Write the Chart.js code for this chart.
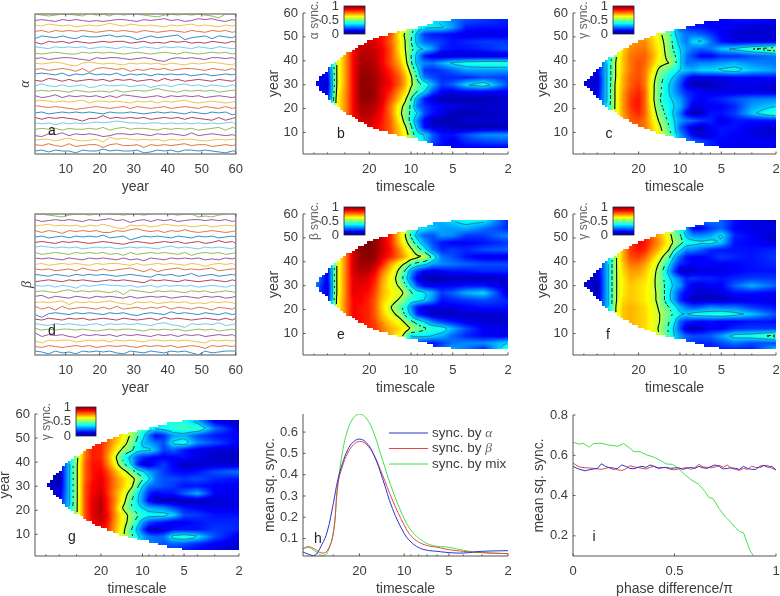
<!DOCTYPE html>
<html>
<head>
<meta charset="utf-8">
<script src="https://cdn.jsdelivr.net/npm/chart.js@4"></script>
<style>
html, body { margin: 0; padding: 0; background: #fff; width: 780px; height: 596px; overflow: hidden; }
canvas { position: absolute; filter: blur(0.4px); }
</style>
</head>
<body>
<script>
// ---- data ----
const yearTicks = [10, 20, 30, 40, 50, 60];
const lineYears = [1, 3, 5, 7, 9, 11, 13, 15, 17, 19, 21, 23, 25, 27, 29, 31, 33, 35, 37, 39, 41, 43, 45, 47, 49, 51, 53, 55, 57, 59, 60];
const lineColors = ['#0072BDcc', '#D95319cc', '#EDB120cc', '#7E2F8Ecc', '#77AC30cc', '#4DBEEEcc', '#A2142Fcc'];

// one row per line, bottom line first, in tenths of the line spacing
const linesA = [
  [0,1,-1,1,0,0,-2,1,0,0,2,0,1,0,0,1,-2,-1,1,0,1,-1,1,1,0,1,0,-1,-2,0,0],
  [1,0,2,0,-1,2,-1,0,1,1,-2,1,2,0,0,1,-2,1,0,1,0,1,2,0,1,1,-1,0,1,0,1],
  [0,1,1,-1,1,2,0,-1,0,1,-2,3,1,2,1,0,1,0,1,-1,1,0,1,1,0,-1,0,1,0,1,1],
  [-1,-2,1,0,2,-1,1,0,1,0,-2,-1,1,1,0,1,0,-1,1,0,1,0,-1,2,-1,0,1,0,-1,0,-1],
  [0,1,0,1,-1,1,0,0,1,0,2,-1,1,2,0,1,1,0,-1,1,0,1,0,1,-1,0,1,2,-1,2,1],
  [1,0,1,-1,1,0,1,0,1,2,1,2,3,2,1,1,0,1,1,0,1,0,1,0,1,0,1,0,1,2,-1],
  [1,-1,1,0,1,0,-1,-3,0,0,3,0,1,0,1,0,1,-1,0,1,0,1,-1,1,0,-1,-2,1,-2,0,1],
  [0,1,-1,0,1,0,1,0,1,0,-1,1,0,0,1,0,-1,0,1,0,1,0,-1,1,0,-1,1,0,1,-2,-1],
  [2,1,0,1,0,-1,-2,-1,0,1,0,-1,0,1,-1,1,0,-1,0,1,-1,0,1,0,-1,1,0,-1,1,-1,0],
  [1,2,1,0,1,0,1,2,-1,1,1,0,1,0,-1,1,0,1,-1,1,0,1,2,0,-1,0,1,0,-1,0,1],
  [1,-1,0,2,-1,1,0,1,0,1,-1,1,-1,2,1,0,-1,0,1,-1,1,0,1,0,1,-1,0,1,0,-1,0],
  [0,1,0,1,0,-1,1,0,-1,0,0,-1,1,-1,0,1,0,1,3,1,0,-1,1,0,1,0,1,-1,0,1,1],
  [0,2,0,-1,1,-1,0,1,-2,-1,1,0,0,1,-1,0,1,-2,0,1,-1,1,2,0,1,-1,1,0,-1,1,0],
  [0,-1,2,1,-1,1,-1,0,1,0,1,-1,1,0,1,-1,0,1,-1,2,0,1,-1,0,1,0,-1,1,0,-1,1],
  [1,2,1,0,2,-1,1,0,2,0,1,0,2,-1,1,0,1,-1,1,0,1,0,1,-1,0,1,-1,0,1,0,1],
  [0,1,-1,0,1,0,-2,1,-3,1,2,1,0,1,-2,0,-1,1,0,1,-1,0,1,1,0,-1,1,0,-1,1,-1],
  [1,0,1,2,1,-1,-2,1,2,1,0,1,0,-1,1,0,1,0,1,-1,1,0,-1,1,0,1,2,1,0,-1,1],
  [0,1,-1,0,1,1,0,-1,-2,1,0,1,1,0,-1,0,1,0,-2,-3,0,1,0,1,0,-1,1,1,0,1,-1],
  [0,-1,0,1,0,-1,-1,1,0,1,0,1,0,-1,0,1,0,-1,0,1,0,-1,1,0,-1,0,1,0,1,-1,0],
  [1,0,-1,1,0,1,0,1,-1,0,1,0,-1,1,0,-1,1,0,-1,1,0,1,0,-1,1,0,-1,1,0,-1,-1],
  [0,-2,1,0,1,-1,1,0,-1,0,1,0,1,1,-1,0,1,-1,0,-1,1,0,1,-1,0,-1,1,0,-1,1,0],
  [-2,1,0,-1,1,-1,-2,1,0,0,1,2,0,1,0,-3,-1,1,-1,0,1,2,-3,-1,0,1,-2,1,0,-1,1],
  [0,1,-1,1,0,1,0,1,0,-1,0,1,0,1,0,-1,1,0,-1,0,1,0,-1,1,0,-1,1,0,1,-1,0],
  [1,0,2,1,0,1,-1,0,1,0,1,3,1,0,2,1,0,1,0,-1,1,0,1,2,0,1,0,-1,1,0,1],
  [0,1,0,-1,1,0,1,0,-1,0,-1,0,1,1,0,-1,1,0,1,2,0,1,-1,0,2,1,2,0,-1,1,0],
  [1,0,-1,0,1,1,0,-1,2,0,1,-1,2,0,1,1,0,-1,-2,0,1,0,1,0,1,0,-1,-3,1,1,1]
];
const linesD = [
  [1,0,-2,1,-1,0,-2,1,0,1,0,1,-1,-2,1,0,-1,1,0,-1,1,0,1,-1,-3,1,-1,0,1,1,1],
  [0,-1,1,0,-1,0,1,0,1,-1,0,1,0,1,0,-1,1,0,1,0,1,-1,0,1,0,-2,1,0,1,0,1],
  [0,-2,1,0,1,1,-1,0,1,0,1,-1,1,0,1,0,-1,1,1,0,1,0,1,0,-1,-2,1,0,1,0,1],
  [3,-1,1,0,1,-1,-2,1,0,1,0,1,-1,1,0,1,0,-1,1,0,1,-1,1,0,1,-1,0,1,0,1,-1],
  [2,0,1,0,1,1,0,1,0,-1,0,1,0,1,1,0,-1,1,0,1,0,1,-1,0,1,0,1,-1,0,1,0],
  [1,0,-1,1,0,1,0,-1,0,1,-1,1,0,1,0,1,0,-1,1,2,0,-1,-3,1,0,1,0,2,-1,0,1],
  [0,-1,1,0,-1,1,0,1,-1,0,1,0,-1,1,0,-1,0,1,-1,2,0,1,0,-1,0,1,0,-1,1,-1,1],
  [-1,-4,0,1,0,-1,1,0,1,0,-1,1,0,1,-1,-2,0,1,0,-1,2,0,1,0,-1,1,0,-1,1,-1,0],
  [2,-1,1,-2,2,-1,0,1,0,-1,1,-1,2,-1,0,1,-1,1,0,2,-1,1,0,-1,1,0,-2,1,0,-1,1],
  [0,1,0,1,2,-2,1,0,1,0,1,2,0,-1,-2,1,0,1,-1,0,1,0,1,-1,0,-1,1,0,1,0,-1],
  [1,2,-1,1,0,-1,1,0,-1,1,0,1,0,-1,1,-1,0,1,0,1,-1,0,1,0,-1,1,0,1,-1,0,1],
  [0,1,0,-1,1,2,0,1,0,1,0,-1,1,-3,2,1,0,-1,1,0,1,0,-1,1,0,1,-1,0,1,0,-1],
  [1,0,1,-1,1,0,-2,1,0,1,2,1,1,0,1,-1,0,1,-1,1,0,1,0,1,-1,0,1,0,-1,1,0],
  [-1,0,1,0,-1,1,0,1,0,-1,0,1,0,1,0,-1,-2,1,0,1,0,-1,1,0,-1,0,1,0,-1,1,0],
  [1,0,-1,1,0,-1,1,0,1,0,1,0,-1,0,1,0,-1,-2,1,0,1,-1,0,2,-1,0,1,-1,0,1,0],
  [1,0,1,-1,0,1,-1,2,0,-1,1,-1,0,1,2,0,-2,1,-2,0,1,2,0,1,0,1,2,-1,0,1,1],
  [0,1,-1,0,1,0,1,0,-1,1,0,1,1,0,-1,1,-1,0,1,0,1,0,-1,1,0,-2,0,1,0,1,-1],
  [1,0,1,0,-1,1,0,-1,1,0,1,0,-1,1,-1,0,-2,1,0,-1,1,0,1,0,1,-1,0,-1,1,0,1],
  [1,-1,0,1,0,-1,1,0,1,0,1,-1,0,-2,1,-1,0,1,0,1,0,-1,1,-2,0,1,0,1,-1,0,1],
  [1,2,1,0,1,0,1,-1,0,1,0,1,-1,0,1,0,1,0,-1,1,2,0,1,0,-1,1,0,1,0,-1,1],
  [0,1,0,-1,1,0,1,0,-1,0,1,0,-1,-2,0,1,0,-1,0,1,0,1,-1,0,1,-1,0,2,0,1,-1],
  [0,1,-1,0,1,-1,1,0,1,0,2,-1,0,1,-3,-1,1,0,1,0,-1,1,0,-1,1,0,1,-1,0,1,0],
  [1,-1,1,0,-2,1,0,1,0,1,-1,-1,1,0,2,3,1,0,1,-1,1,0,2,0,-1,0,1,0,-1,0,1],
  [0,1,2,0,1,0,1,-1,1,0,2,0,-2,-3,1,0,1,-1,0,2,1,0,1,-1,0,1,-1,0,1,0,1],
  [1,-1,0,1,0,1,0,-1,1,0,1,2,0,1,-2,0,1,-1,1,0,1,-1,0,1,1,0,1,0,1,-1,0],
  [1,1,0,-1,-2,0,1,1,0,1,2,1,1,0,1,1,0,1,2,2,1,0,1,1,-2,-1,-2,0,1,2,1]
];

// heat maps: rows run from year 57 down to year 3, values in hundredths
const heatTimescales = [48, 40, 34, 29, 26, 23, 20, 18, 16, 14, 12, 11, 10, 9, 8, 7, 6, 5, 4, 3, 2];
const heatYears = [57, 54, 51, 48, 45, 42, 39, 36, 33, 30, 27, 24, 21, 18, 15, 12, 9, 6, 3];
const heatB = [
  [20,20,58,75,85,85,85,85,85,80,65,60,50,42,38,35,32,25,20,18,15],
  [20,20,58,75,88,88,88,88,85,80,68,60,50,40,36,36,35,28,15,14,14],
  [20,20,58,75,88,90,90,90,86,80,62,54,46,30,18,14,14,12,10,10,10],
  [20,20,58,75,88,92,92,90,86,78,64,56,44,30,22,20,18,14,16,18,18],
  [20,20,58,75,88,94,93,92,88,80,64,56,48,36,34,28,16,14,14,16,20],
  [20,18,58,75,88,95,95,93,88,80,66,58,44,30,14,10,8,8,8,8,8],
  [15,15,58,75,88,96,96,94,88,80,70,60,46,30,26,24,30,36,40,42,42],
  [14,14,58,75,88,97,97,95,90,84,74,66,52,38,18,16,18,22,28,28,28],
  [10,10,58,75,88,98,98,96,92,86,78,70,58,42,24,20,16,16,16,20,18],
  [12,8,58,75,88,98,98,96,92,87,78,70,58,48,42,30,18,22,34,40,20],
  [12,10,60,76,88,98,99,96,90,84,72,66,52,44,34,20,12,10,12,12,12],
  [14,14,62,76,88,98,98,96,90,80,68,58,44,28,14,8,5,5,5,5,8],
  [18,18,62,76,88,96,96,94,88,76,60,52,42,24,18,14,12,10,8,8,8],
  [20,20,62,76,88,95,95,92,86,76,58,50,42,34,20,14,10,6,5,6,8],
  [20,20,62,76,88,92,92,90,85,78,62,52,40,26,12,6,5,5,8,8,8],
  [20,20,62,76,88,90,90,88,84,78,66,58,46,30,14,10,8,6,5,5,5],
  [20,20,62,76,88,88,88,86,84,78,68,62,50,38,34,22,14,14,20,26,28],
  [20,20,62,76,88,88,88,86,84,78,68,62,54,44,34,20,14,10,16,18,20],
  [20,20,62,76,88,88,88,86,84,78,68,62,52,40,30,15,12,12,10,10,10]
];
const heatC = [
  [15,15,30,50,60,66,68,68,62,55,45,35,22,18,14,14,12,12,14,14,12],
  [15,15,30,50,60,66,68,68,62,55,45,35,22,18,14,14,12,12,10,8,8],
  [15,15,30,52,62,68,70,70,66,58,48,36,28,24,24,22,18,12,8,8,8],
  [15,15,30,52,64,72,74,74,68,60,50,40,30,24,34,36,24,14,10,10,10],
  [14,14,30,54,66,74,76,76,70,62,50,42,34,28,24,22,24,32,36,44,52],
  [12,12,32,56,68,76,78,78,72,62,52,46,36,24,18,12,12,16,16,20,24],
  [12,10,34,58,68,76,80,78,70,60,56,48,36,24,24,26,26,28,30,26,24],
  [10,10,34,58,68,76,80,76,66,52,44,40,34,32,30,34,34,36,38,32,28],
  [8,8,34,58,70,78,80,76,62,48,38,32,24,16,10,10,10,10,12,12,14],
  [8,8,34,60,70,78,82,76,60,46,34,28,20,10,6,5,6,8,10,10,8],
  [10,10,34,60,72,80,84,78,60,46,34,28,22,16,14,12,10,10,10,10,8],
  [12,12,34,60,72,82,86,78,60,44,36,32,28,20,14,12,14,16,20,24,26],
  [14,14,36,60,72,82,86,78,62,46,38,34,30,20,10,10,12,12,16,28,34],
  [14,14,36,60,72,80,84,78,64,50,38,32,24,12,5,8,14,14,18,32,44],
  [14,14,36,60,70,78,80,76,66,54,42,34,28,24,22,18,16,10,14,14,14],
  [14,14,36,60,70,76,78,76,68,58,44,36,22,14,8,6,12,14,14,10,8],
  [14,14,36,60,70,76,78,76,68,60,48,38,28,20,10,8,10,14,12,10,8],
  [14,14,36,60,70,76,78,76,68,60,48,38,30,28,24,20,16,12,12,12,12],
  [14,14,36,60,70,76,78,76,68,60,48,38,30,26,22,18,14,12,10,10,10]
];
const heatE = [
  [30,25,58,78,92,98,98,96,92,84,68,60,50,40,34,30,30,34,38,36,16],
  [30,25,58,78,92,98,98,96,92,84,68,60,46,36,34,32,28,28,30,24,16],
  [30,22,58,78,92,98,99,98,92,84,66,56,42,30,22,20,28,26,18,18,26],
  [32,22,58,78,92,99,100,98,92,84,68,60,50,38,28,20,14,12,12,14,18],
  [32,20,58,78,92,99,100,98,92,86,74,66,58,50,38,24,16,18,16,20,22],
  [34,18,58,78,92,98,99,97,90,84,76,70,62,58,58,42,24,20,14,10,10],
  [34,14,58,78,92,97,97,94,84,72,60,54,45,40,36,28,26,24,22,20,20],
  [32,10,58,78,92,95,94,88,76,66,52,42,28,18,12,10,12,14,14,16,16],
  [28,10,58,78,90,92,90,84,72,62,50,38,24,10,6,5,5,6,6,6,8],
  [24,8,58,78,90,90,88,82,70,62,54,46,34,20,12,10,12,12,14,14,8],
  [22,8,58,78,90,88,86,80,70,64,60,54,46,40,36,30,18,22,30,34,8],
  [22,10,60,78,88,88,84,78,68,62,54,48,40,38,34,26,14,16,18,20,16],
  [24,12,60,78,88,86,84,78,66,56,46,40,26,14,10,10,10,10,12,14,14],
  [24,14,60,78,88,86,84,78,68,60,52,42,32,16,10,6,6,6,8,8,8],
  [26,16,60,78,88,86,84,80,72,66,60,54,46,40,34,24,18,14,10,8,8],
  [26,16,60,78,88,86,84,82,76,70,66,62,56,50,46,42,40,30,20,12,10],
  [28,16,60,78,88,86,84,82,76,70,62,50,34,36,36,34,30,22,16,12,10],
  [28,16,60,78,88,86,84,82,76,70,60,50,28,20,16,14,18,24,26,26,34],
  [28,16,60,78,88,86,84,82,76,70,60,50,28,20,16,16,24,30,24,14,44]
];
const heatF = [
  [14,14,28,52,66,76,80,78,74,68,56,44,40,30,22,22,24,22,14,10,8],
  [14,14,28,52,66,78,84,82,76,70,58,48,40,28,12,12,18,22,12,10,10],
  [14,14,28,52,68,80,86,84,78,70,60,50,46,32,26,26,28,36,16,12,6],
  [14,14,28,52,68,82,88,86,80,72,62,54,48,40,38,36,38,32,14,12,10],
  [12,14,28,54,70,82,86,84,76,68,56,44,36,26,26,22,16,14,14,14,16],
  [12,12,30,56,70,80,82,78,70,60,46,32,22,14,12,12,14,18,16,14,18],
  [12,10,30,56,68,76,76,72,64,54,36,24,16,14,12,12,12,12,12,14,16],
  [10,8,30,56,66,72,72,68,62,50,30,18,8,6,8,10,10,10,12,14,14],
  [8,6,30,56,64,70,68,66,60,50,36,30,24,16,18,16,16,14,16,18,18],
  [8,5,30,56,64,68,66,64,60,50,38,32,28,16,10,10,12,12,22,30,22],
  [10,5,30,56,64,68,66,64,60,52,36,28,18,12,10,8,8,10,14,14,12],
  [12,8,30,56,66,68,66,64,60,52,36,28,16,10,6,6,6,6,8,10,10],
  [14,12,30,58,68,70,68,66,62,54,44,38,30,24,20,22,26,24,24,18,14],
  [14,14,30,58,68,70,68,66,62,56,48,42,36,34,38,40,40,42,38,32,20],
  [14,14,30,58,68,70,68,66,62,56,44,36,22,16,14,12,14,12,12,14,14],
  [14,14,30,58,68,70,68,66,62,54,42,32,20,8,5,8,12,12,16,18,18],
  [14,14,30,58,68,70,68,66,62,56,44,34,28,22,20,20,22,28,38,40,48],
  [14,14,30,58,68,70,68,66,62,56,44,34,28,20,18,16,16,20,24,20,20],
  [14,14,30,58,68,70,68,66,62,56,44,34,28,20,16,16,14,14,14,14,34]
];
const heatG = [
  [14,14,30,56,72,78,80,76,72,62,52,48,44,40,34,36,40,40,30,10,6],
  [14,14,30,56,72,80,82,76,72,64,54,50,44,40,36,38,42,44,44,24,10],
  [14,14,30,56,72,82,84,78,72,64,54,46,38,24,12,16,28,30,20,14,12],
  [14,14,30,56,74,84,84,78,70,62,50,42,32,28,24,20,36,40,26,20,12],
  [12,12,30,58,76,85,84,76,66,54,46,38,36,36,30,18,22,14,10,8,8],
  [10,10,32,58,76,85,84,74,60,42,30,22,16,14,12,12,12,14,10,8,6],
  [8,8,32,60,78,86,86,76,64,48,34,18,10,8,14,18,12,6,8,8,8],
  [6,6,32,60,78,86,88,82,72,62,50,42,36,28,24,18,14,12,14,20,24],
  [6,5,32,60,78,86,90,84,76,68,60,54,46,36,24,20,20,18,20,16,14],
  [8,6,32,60,80,88,90,84,76,68,58,48,34,24,22,20,18,14,14,12,12],
  [10,8,32,60,80,88,92,84,74,64,50,38,28,16,12,14,14,22,30,12,10],
  [12,12,32,60,80,90,94,86,76,62,44,36,26,12,6,5,5,5,6,8,10],
  [14,14,34,60,80,90,95,86,74,56,44,38,34,30,28,26,20,14,12,10,10],
  [14,14,34,60,80,90,94,88,76,62,52,46,42,38,38,38,34,20,18,14,14],
  [14,14,34,60,78,88,92,86,74,62,50,40,28,20,16,14,10,12,14,16,16],
  [14,14,34,60,78,86,88,84,72,60,44,32,20,8,6,8,14,14,14,18,16],
  [14,14,34,60,78,86,86,82,70,58,46,38,30,24,22,24,38,42,36,20,10],
  [14,14,34,60,78,86,86,82,70,58,46,38,30,26,24,20,22,20,16,12,8],
  [14,14,34,60,78,86,86,82,70,58,46,38,30,24,20,18,16,14,12,10,8]
];
const contourLevels = [0.34, 0.44, 0.56];
const coneCentre = 30.5;
const coneTimescales = [49, 43, 36, 33, 26, 20, 15, 11.4, 8.7, 6.7, 4.9, 3.3, 2];
const coneHalfWidths = [0.5, 3.8, 8.7, 10.3, 14.2, 17.7, 20.5, 22.3, 23.7, 25.6, 26.7, 27.4, 27.4];

// panel h
const meanTimescales = [48, 44, 40, 36, 33, 30, 28, 26, 24, 22, 20, 18, 16, 14, 12, 10, 9, 8, 7, 6, 5, 4, 3, 2];
const meanAlpha = [.037,.026,.02,.069,.131,.265,.375,.454,.517,.554,.567,.551,.493,.383,.241,.124,.084,.058,.045,.04,.034,.032,.04,.043];
const meanBeta = [.053,.062,.05,.032,.042,.124,.352,.441,.501,.54,.556,.543,.493,.399,.281,.163,.113,.084,.067,.059,.048,.04,.034,.029];
const meanMix = [.05,.058,.042,.021,.032,.131,.344,.509,.611,.666,.685,.666,.595,.47,.328,.194,.139,.103,.076,.064,.059,.045,.034,.029];
const seriesLabels = ['sync. by ', 'sync. by ', 'sync. by '];
const seriesSymbols = ['α', 'β', ''];
const seriesTail = ['', '', 'mix'];
const seriesColors = ['#2a35c8', '#e2474b', '#45e04a'];

// panel i
const phaseEven = [0,.02,.04,.06,.08,.1,.12,.14,.16,.18,.2,.22,.24,.26,.28,.3,.32,.34,.36,.38,.4,.42,.44,.46,.48,.5,.52,.54,.56,.58,.6,.62,.64,.66,.68,.7,.72,.74,.76,.78,.8,.82,.84,.86,.88,.9,.92,.94,.96,.98,1];
const phaseAlpha = [.545,.535,.528,.523,.528,.532,.534,.558,.545,.538,.53,.535,.552,.545,.535,.533,.54,.545,.54,.552,.545,.535,.538,.54,.535,.537,.538,.53,.535,.54,.535,.545,.538,.535,.545,.552,.545,.532,.535,.538,.535,.53,.545,.535,.53,.53,.545,.55,.54,.545,.528];
const phaseBeta = [.562,.548,.54,.538,.537,.535,.533,.53,.535,.54,.538,.528,.525,.532,.548,.542,.54,.535,.532,.54,.545,.538,.54,.538,.53,.528,.532,.535,.54,.53,.538,.555,.542,.54,.538,.542,.55,.54,.552,.535,.53,.525,.535,.53,.545,.54,.538,.548,.55,.535,.528];
const phaseMixX = [0,.03,.05,.08,.1,.14,.17,.2,.22,.25,.28,.3,.33,.36,.4,.43,.46,.49,.52,.55,.58,.62,.65,.67,.69,.72,.75,.78,.8,.82,.84,.86,.87,.89];
const phaseMix = [.665,.655,.66,.64,.658,.66,.652,.648,.645,.658,.635,.618,.618,.603,.59,.575,.557,.555,.535,.505,.48,.455,.42,.39,.385,.335,.295,.265,.24,.222,.215,.16,.13,.1];

const timescaleTicks = [50, 40, 30, 20, 10, 9, 8, 7, 6, 5, 4, 3, 2];
const timescaleLabels = [20, 10, 5, 2];

// ---- helpers ----
const FONT = '"Liberation Sans", Arial, sans-serif';
const TEXT = '#3c3c3c';
const AXIS = '#555';
const NO_GRID = { display: false, drawTicks: false };

function addCanvas(box, L, T, R, B) {
  const c = document.createElement('canvas');
  c.width = L + (box.r - box.l) + R;
  c.height = T + (box.b - box.t) + B;
  c.style.left = (box.l - L) + 'px';
  c.style.top = (box.t - T) + 'px';
  c.style.width = c.width + 'px';
  c.style.height = c.height + 'px';
  document.body.appendChild(c);
  return c;
}

function jet(v) {
  const f = (a) => Math.max(0, Math.min(1, 1.5 - Math.abs(4 * v - a)));
  return [f(3) * 255, f(2) * 255, f(1) * 255];
}

function interpIndex(list, v) {
  // list is monotonic, returns i and fraction
  const up = list[0] < list[list.length - 1];
  for (let i = 0; i < list.length - 1; i++) {
    const inside = up ? v <= list[i + 1] : v >= list[i + 1];
    if (inside) return [i, (v - list[i]) / (list[i + 1] - list[i])];
  }
  return [list.length - 2, 1];
}

const logHeatT = heatTimescales.map(Math.log);
const logConeT = coneTimescales.map(Math.log);

function sampleHeat(grid, t, year) {
  const [ci, cf0] = interpIndex(logHeatT, Math.log(t));
  const [ri, rf0] = interpIndex(heatYears, year);
  const cf = Math.max(0, Math.min(1, cf0)), rf = Math.max(0, Math.min(1, rf0));
  const a = grid[ri][ci] * (1 - cf) + grid[ri][ci + 1] * cf;
  const b = grid[ri + 1][ci] * (1 - cf) + grid[ri + 1][ci + 1] * cf;
  return (a * (1 - rf) + b * rf) / 100;
}

function coneHalf(t) {
  if (t > coneTimescales[0]) return -1;
  const [i, f] = interpIndex(logConeT, Math.log(t));
  return coneHalfWidths[i] + (coneHalfWidths[i + 1] - coneHalfWidths[i]) * f;
}

function heatPlugin(grid) {
  return {
    id: 'heat',
    beforeDatasetsDraw(chart) {
      const xs = chart.scales.x, ys = chart.scales.y, area = chart.chartArea, ctx = chart.ctx;
      const left = Math.round(area.left), top = Math.round(area.top);
      const w = Math.round(area.right) - left, h = Math.round(area.bottom) - top;
      const img = ctx.createImageData(w, h);
      for (let i = 0; i < w; i++) {
        const px = left + i + 0.5;
        const t = xs.getValueForPixel(px);
        const stepPx = left + w - Math.ceil((w - i) / 3) * 3 + 1.5;
        const half = coneHalf(xs.getValueForPixel(Math.max(stepPx, left)));
        if (half < 0) continue;
        for (let j = 0; j < h; j++) {
          const year = ys.getValueForPixel(top + j + 0.5);
          if (Math.abs(Math.round(year) - coneCentre) > half) continue;
          const [r, g, b] = jet(sampleHeat(grid, t, year));
          const k = (j * w + i) * 4;
          img.data[k] = r; img.data[k + 1] = g; img.data[k + 2] = b; img.data[k + 3] = 255;
        }
      }
      ctx.putImageData(img, left, top);
      drawContours(chart, grid);
    }
  };
}

function drawContours(chart, grid) {
  const xs = chart.scales.x, ys = chart.scales.y, area = chart.chartArea, ctx = chart.ctx;
  const step = 2;
  const vals = [], inside = [];
  const nx = Math.floor((area.right - area.left) / step), ny = Math.floor((area.bottom - area.top) / step);
  for (let i = 0; i <= nx; i++) {
    vals.push([]); inside.push([]);
    const t = xs.getValueForPixel(area.left + i * step);
    const half = coneHalf(t);
    for (let j = 0; j <= ny; j++) {
      const year = ys.getValueForPixel(area.top + j * step);
      inside[i].push(half > 0 && Math.abs(year - coneCentre) < half - 0.5);
      vals[i].push(sampleHeat(grid, t, year));
    }
  }
  contourLevels.forEach((level, n) => {
    ctx.save();
    ctx.strokeStyle = n === 0 ? '#3a4a50' : '#000';
    ctx.lineWidth = n === 0 ? 0.6 : (n === 1 ? 0.8 : 1.1);
    ctx.beginPath();
    for (let i = 0; i < nx; i++) {
      for (let j = 0; j < ny; j++) {
        if (!(inside[i][j] && inside[i + 1][j] && inside[i][j + 1] && inside[i + 1][j + 1])) continue;
        const x0 = area.left + i * step, y0 = area.top + j * step;
        const v = [vals[i][j], vals[i + 1][j], vals[i + 1][j + 1], vals[i][j + 1]];
        const pts = [];
        const corners = [[0, 0], [1, 0], [1, 1], [0, 1]];
        for (let e = 0; e < 4; e++) {
          const a = v[e], b = v[(e + 1) % 4];
          if ((a < level) !== (b < level)) {
            const f = (level - a) / (b - a);
            const ca = corners[e], cb = corners[(e + 1) % 4];
            pts.push([x0 + (ca[0] + (cb[0] - ca[0]) * f) * step, y0 + (ca[1] + (cb[1] - ca[1]) * f) * step]);
          }
        }
        if (pts.length < 2) continue;
        if (n === 1 && Math.floor((pts[0][0] + pts[0][1]) / 3) % 2 === 0) continue;
        ctx.moveTo(pts[0][0], pts[0][1]);
        ctx.lineTo(pts[1][0], pts[1][1]);
      }
    }
    ctx.stroke();
    ctx.restore();
  });
}

function framePlugin(fullBox, letter) {
  return {
    id: 'frame',
    afterDraw(chart) {
      const ctx = chart.ctx, a = chart.chartArea, xs = chart.scales.x, ys = chart.scales.y;
      ctx.save();
      ctx.strokeStyle = fullBox ? '#8a8a8a' : AXIS;
      ctx.lineWidth = fullBox ? 1.5 : 1;
      ctx.beginPath();
      ctx.moveTo(a.left, a.top); ctx.lineTo(a.left, a.bottom); ctx.lineTo(a.right, a.bottom);
      if (fullBox) { ctx.lineTo(a.right, a.top); ctx.closePath(); }
      ctx.stroke();
      ctx.strokeStyle = AXIS;
      ctx.lineWidth = 1;
      ctx.beginPath();
      xs.ticks.forEach(tk => {
        const p = xs.getPixelForValue(tk.value);
        const len = tk.label === '' ? 1.5 : 2.5;
        ctx.moveTo(p, a.bottom); ctx.lineTo(p, a.bottom - len);
        if (fullBox) { ctx.moveTo(p, a.top); ctx.lineTo(p, a.top + len); }
      });
      if (!fullBox) {
        ys.ticks.forEach(tk => {
          const p = ys.getPixelForValue(tk.value);
          ctx.moveTo(a.left, p); ctx.lineTo(a.left + 2.5, p);
        });
      }
      ctx.stroke();
      ctx.fillStyle = '#222';
      ctx.font = '14px ' + FONT;
      ctx.textAlign = 'center';
      ctx.textBaseline = 'middle';
      ctx.fillText(letter.text, a.left + letter.dx, a.top + letter.dy);
      ctx.restore();
    }
  };
}

function legendPlugin(dx, dy, gap) {
  return {
    id: 'lineKey',
    afterDraw(chart) {
      const ctx = chart.ctx, a = chart.chartArea;
      ctx.save();
      seriesLabels.forEach((label, i) => {
        const y = a.top + dy + i * gap;
        ctx.strokeStyle = seriesColors[i];
        ctx.lineWidth = 1;
        ctx.beginPath();
        ctx.moveTo(a.left + dx, y); ctx.lineTo(a.left + dx + 39, y);
        ctx.stroke();
        ctx.textBaseline = 'middle';
        ctx.textAlign = 'left';
        ctx.fillStyle = TEXT;
        ctx.font = '13.5px ' + FONT;
        let x = a.left + dx + 43;
        ctx.fillText(label, x, y);
        x += ctx.measureText(label).width;
        if (seriesTail[i]) ctx.fillText(seriesTail[i], x, y);
        if (seriesSymbols[i]) {
          ctx.font = 'italic 13.5px "Liberation Serif", serif';
          ctx.fillStyle = '#666';
          ctx.fillText(seriesSymbols[i], x, y);
        }
      });
      ctx.restore();
    }
  };
}

function fixedTicks(list) {
  return s => { s.ticks = list.map(v => ({ value: v })); };
}

function titleOpts(text, font) {
  return { display: true, text: text, color: TEXT, padding: 0, font: font || { family: FONT, size: 14 } };
}

function tickOpts(padding, callback) {
  return { color: TEXT, font: { family: FONT, size: 13 }, padding: padding, autoSkip: false, minRotation: 0, maxRotation: 0, callback: callback };
}

function yearX() {
  return {
    type: 'linear', min: 1, max: 60, bounds: 'data',
    afterBuildTicks: fixedTicks(yearTicks),
    grid: NO_GRID, border: { display: false },
    ticks: tickOpts(8, v => String(v)),
    title: titleOpts('year'),
    afterFit: s => { s.height = 42; }
  };
}

function timescaleX(maxT) {
  return {
    type: 'logarithmic', reverse: true, min: 2, max: maxT, bounds: 'data',
    afterBuildTicks: fixedTicks(timescaleTicks.filter(v => v <= maxT)),
    grid: NO_GRID, border: { display: false },
    ticks: tickOpts(8, v => timescaleLabels.includes(v) ? String(v) : ''),
    title: titleOpts('timescale'),
    afterFit: s => { s.height = 42; }
  };
}

const MAIN_LAYOUT = { padding: { top: 14, right: 12, left: 0, bottom: 0 } };

// line stack panels a and d
function stackPanel(box, L, lines, greek, letter) {
  const c = addCanvas(box, L, 14, 12, 42);
  new Chart(c, {
    type: 'scatter',
    data: {
      datasets: lines.map((row, i) => ({
        data: row.map((v, k) => ({ x: lineYears[k], y: i + v * 0.17 })),
        showLine: true, pointRadius: 0, borderWidth: 1,
        borderColor: lineColors[i % lineColors.length]
      }))
    },
    options: {
      responsive: false, animation: false,
      layout: MAIN_LAYOUT,
      plugins: { legend: { display: false }, tooltip: { enabled: false } },
      scales: {
        x: yearX(),
        y: {
          type: 'linear', min: -0.55, max: 25.2, bounds: 'data',
          grid: NO_GRID, border: { display: false },
          ticks: { display: false },
          title: titleOpts(greek, { family: '"Liberation Serif", serif', style: 'italic', size: 14 }),
          afterFit: s => { s.width = L; }
        }
      }
    },
    plugins: [framePlugin(true, letter)]
  });
}

// wavelet panels
function heatPanel(box, L, grid, letter) {
  const c = addCanvas(box, L, 14, 12, 42);
  new Chart(c, {
    type: 'scatter',
    data: { datasets: [{ data: [] }] },
    options: {
      responsive: false, animation: false,
      layout: MAIN_LAYOUT,
      plugins: { legend: { display: false }, tooltip: { enabled: false } },
      scales: {
        x: timescaleX(60),
        y: {
          type: 'linear', min: 1, max: 60, bounds: 'data',
          afterBuildTicks: fixedTicks(yearTicks),
          grid: NO_GRID, border: { display: false },
          ticks: tickOpts(5, v => String(v)),
          title: titleOpts('year'),
          afterFit: s => { s.width = L; }
        }
      }
    },
    plugins: [heatPlugin(grid), framePlugin(false, letter)]
  });
}

// colour bars
function colourBar(box, L, text) {
  const c = addCanvas(box, L, 10, 2, 10);
  new Chart(c, {
    type: 'scatter',
    data: { datasets: [{ data: [] }] },
    options: {
      responsive: false, animation: false,
      layout: { padding: { top: 10, right: 2, bottom: 10 } },
      plugins: { legend: { display: false }, tooltip: { enabled: false } },
      scales: {
        x: { display: false, min: 0, max: 1 },
        y: {
          type: 'linear', min: 0, max: 1, bounds: 'data',
          afterBuildTicks: fixedTicks([0, 0.5, 1]),
          grid: NO_GRID, border: { display: false },
          ticks: tickOpts(5, v => String(v)),
          title: { display: true, text: text, color: '#666', padding: 0, font: { family: FONT, size: 12 } },
          afterFit: s => { s.width = L; s.paddingTop = 0; s.paddingBottom = 0; }
        }
      }
    },
    plugins: [{
      id: 'bar',
      beforeDatasetsDraw(chart) {
        const ctx = chart.ctx, a = chart.chartArea, ys = chart.scales.y;
        for (let p = a.top; p < a.bottom; p++) {
          const [r, g, b] = jet(ys.getValueForPixel(p + 0.5));
          ctx.fillStyle = `rgb(${r},${g},${b})`;
          ctx.fillRect(a.left, p, a.right - a.left, 1);
        }
        ctx.strokeStyle = '#20204a';
        ctx.lineWidth = 0.8;
        ctx.strokeRect(a.left, a.top, a.right - a.left, a.bottom - a.top);
      }
    }]
  });
}

function curve(xs, ys, color, extra) {
  return Object.assign({
    data: ys.map((v, i) => ({ x: xs[i], y: v })),
    showLine: true, pointRadius: 0, borderWidth: 1, borderColor: color
  }, extra || {});
}

// ---- panels ----
stackPanel({ l: 35, t: 14, r: 239, b: 154 }, 18, linesA, 'α', { text: 'a', dx: 17, dy: 117 });
heatPanel({ l: 303, t: 13, r: 508, b: 154 }, 37, heatB, { text: 'b', dx: 38, dy: 121 });
heatPanel({ l: 573, t: 13, r: 776, b: 154 }, 38, heatC, { text: 'c', dx: 36, dy: 121 });
stackPanel({ l: 35, t: 214, r: 239, b: 355 }, 16, linesD, 'β', { text: 'd', dx: 17, dy: 117 });
heatPanel({ l: 303, t: 214, r: 508, b: 355 }, 37, heatE, { text: 'e', dx: 38, dy: 121 });
heatPanel({ l: 573, t: 214, r: 776, b: 355 }, 38, heatF, { text: 'f', dx: 35, dy: 121 });
heatPanel({ l: 35, t: 414, r: 239, b: 556 }, 38, heatG, { text: 'g', dx: 37, dy: 123 });

colourBar({ l: 344, t: 6, r: 365, b: 34 }, 37, 'α sync.');
colourBar({ l: 613, t: 6, r: 634, b: 34 }, 37, 'γ sync.');
colourBar({ l: 344, t: 207, r: 365, b: 235 }, 37, 'β sync.');
colourBar({ l: 613, t: 207, r: 634, b: 235 }, 37, 'γ sync.');
colourBar({ l: 76, t: 407, r: 96, b: 436 }, 37, 'γ sync.');

// panel h
new Chart(addCanvas({ l: 303, t: 414, r: 508, b: 556 }, 41, 14, 12, 42), {
  type: 'scatter',
  data: {
    datasets: [
      curve(meanTimescales, meanAlpha, seriesColors[0], { tension: 0.4 }),
      curve(meanTimescales, meanBeta, seriesColors[1], { tension: 0.4 }),
      curve(meanTimescales, meanMix, seriesColors[2], { tension: 0.4 })
    ]
  },
  options: {
    responsive: false, animation: false,
    layout: MAIN_LAYOUT,
    plugins: { legend: { display: false }, tooltip: { enabled: false } },
    scales: {
      x: timescaleX(48),
      y: {
        type: 'linear', min: 0.018, max: 0.685, bounds: 'data',
        afterBuildTicks: fixedTicks([0.1, 0.2, 0.3, 0.4, 0.5, 0.6]),
        grid: NO_GRID, border: { display: false },
        ticks: tickOpts(5, v => v.toFixed(1)),
        title: titleOpts('mean sq. sync.'),
        afterFit: s => { s.width = 41; }
      }
    }
  },
  plugins: [framePlugin(false, { text: 'h', dx: 15, dy: 125 }), legendPlugin(86, 19, 15.5)]
});

// panel i
new Chart(addCanvas({ l: 573, t: 415, r: 776, b: 556 }, 42, 14, 12, 42), {
  type: 'scatter',
  data: {
    datasets: [
      curve(phaseEven, phaseAlpha, seriesColors[0]),
      curve(phaseEven, phaseBeta, seriesColors[1]),
      curve(phaseMixX, phaseMix, seriesColors[2])
    ]
  },
  options: {
    responsive: false, animation: false,
    layout: MAIN_LAYOUT,
    plugins: { legend: { display: false }, tooltip: { enabled: false } },
    scales: {
      x: {
        type: 'linear', min: 0, max: 1, bounds: 'data',
        afterBuildTicks: fixedTicks([0, 0.5, 1]),
        grid: NO_GRID, border: { display: false },
        ticks: tickOpts(8, v => String(v)),
        title: titleOpts('phase difference/π'),
        afterFit: s => { s.height = 42; }
      },
      y: {
        type: 'linear', min: 0.1, max: 0.8, bounds: 'data',
        afterBuildTicks: fixedTicks([0.2, 0.4, 0.6, 0.8]),
        grid: NO_GRID, border: { display: false },
        ticks: tickOpts(5, v => v.toFixed(1)),
        title: titleOpts('mean sq. sync.'),
        afterFit: s => { s.width = 42; }
      }
    }
  },
  plugins: [framePlugin(false, { text: 'i', dx: 21, dy: 122 })]
});
</script>
</body>
</html>
